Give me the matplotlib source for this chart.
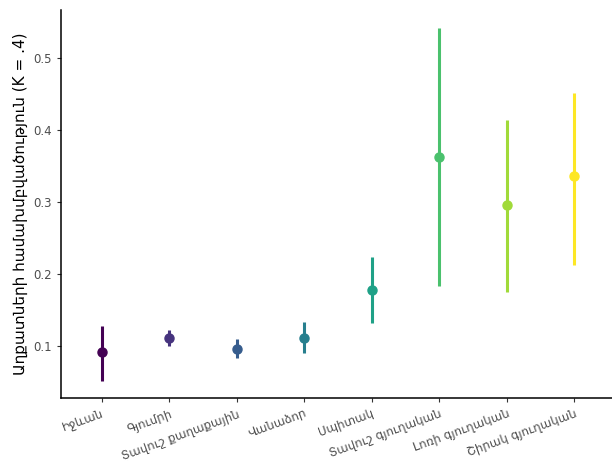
import matplotlib
matplotlib.use("Agg")
import matplotlib.pyplot as plt

plt.rcParams['font.family'] = ['DejaVu Sans']

# Տվյալներ
places = ["Իջևան", "Գյումրի", "Տավուշ քաղաքային", "Վանաձոր", "Սպիտակ",
          "Տավուշ գյուղական", "Լոռի գյուղական", "Շիրակ գյուղական"]
estimate = [0.092, 0.111, 0.096, 0.111, 0.178, 0.362, 0.296, 0.336]
lower = [0.051, 0.100, 0.083, 0.090, 0.132, 0.183, 0.175, 0.213]
upper = [0.128, 0.122, 0.110, 0.133, 0.224, 0.542, 0.414, 0.451]
colors = ["#440154", "#46337E", "#365C8D", "#277F8E",
          "#1FA187", "#4AC16D", "#A0DA39", "#FDE725"]

fig = plt.figure(figsize=(6.12, 4.72), dpi=100)
ax = fig.add_axes([0.0997, 0.157, 0.905, 0.822])

for i in range(len(places)):
    ax.plot([i, i], [lower[i], upper[i]], color=colors[i], lw=2.2,
            solid_capstyle='butt', zorder=2)
    ax.plot(i, estimate[i], 'o', color=colors[i], ms=6.5, zorder=3)

ax.set_xlim(-0.6, len(places) - 0.4)
ax.set_ylim(0.0278, 0.5667)
ax.set_yticks([0.1, 0.2, 0.3, 0.4, 0.5])
ax.set_yticklabels(["0.1", "0.2", "0.3", "0.4", "0.5"])
ax.set_xticks(range(len(places)))
ax.set_xticklabels(places, rotation=20, ha='right', rotation_mode='anchor')

for s in ['top', 'right']:
    ax.spines[s].set_visible(False)
for s in ['left', 'bottom']:
    ax.spines[s].set_linewidth(1.1)
ax.tick_params(axis='both', colors='#333333', labelcolor='#4D4D4D',
               labelsize=8.5, length=3, width=0.8)

ax.set_ylabel("Աղքատների համախմբվածություն (K = .4)", fontsize=11, color='black')

fig.savefig("out.png", dpi=100)
